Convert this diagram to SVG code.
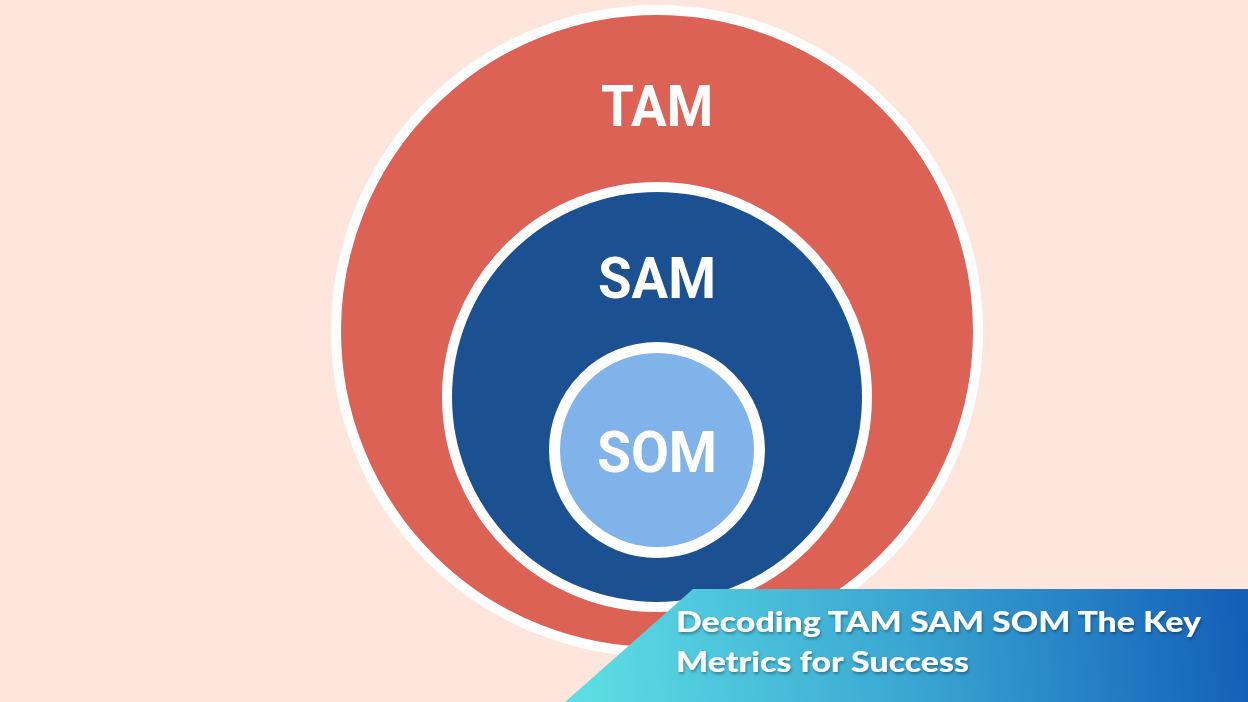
<svg xmlns="http://www.w3.org/2000/svg" width="1248" height="702" viewBox="0 0 1248 702">
  <defs>
    <style>
      .ring { stroke: #FFFFFF; }
      .lbl { font-family: Roboto, "Liberation Sans", sans-serif; font-weight: 700; font-size: 58px; fill: #FFFFFF; text-anchor: middle; }
      .ttl { font-family: Lato, "Open Sans", "Liberation Sans", sans-serif; font-weight: 900; font-size: 29px; fill: #FFFFFF; }
    </style>
    <linearGradient id="bannerGrad" x1="565" y1="680" x2="1248" y2="600" gradientUnits="userSpaceOnUse">
      <stop offset="0" stop-color="#5EE0E4"/>
      <stop offset="0.5" stop-color="#3AA6D2"/>
      <stop offset="1" stop-color="#125EB8"/>
    </linearGradient>
    <filter id="shadow" x="-5%" y="-30%" width="110%" height="160%">
      <feDropShadow dx="1" dy="2" stdDeviation="1.5" flood-color="#000000" flood-opacity="0.35"/>
    </filter>
  </defs>
  <rect x="0" y="0" width="1248" height="702" fill="#FEE6DD"/>
  <g id="connectors"/>
  <g id="tam">
    <circle class="ring" cx="657" cy="331" r="321" fill="#DB6254" stroke-width="10"/>
    <text class="lbl" x="657" y="126" textLength="112" lengthAdjust="spacingAndGlyphs">TAM</text>
  </g>
  <g id="sam">
    <circle class="ring" cx="657" cy="397" r="210" fill="#1B5191" stroke-width="10"/>
    <text class="lbl" x="657" y="298" textLength="118" lengthAdjust="spacingAndGlyphs">SAM</text>
  </g>
  <g id="som">
    <circle class="ring" cx="657" cy="450" r="102.5" fill="#80B3EA" stroke-width="11"/>
    <text class="lbl" x="657" y="472" textLength="120" lengthAdjust="spacingAndGlyphs">SOM</text>
  </g>
  <g id="banner">
    <polygon points="565,702 693,589 1248,589 1248,702" fill="url(#bannerGrad)"/>
    <g filter="url(#shadow)">
      <text class="ttl" x="676" y="632" textLength="525" lengthAdjust="spacingAndGlyphs">Decoding TAM SAM SOM The Key</text>
      <text class="ttl" x="676" y="672" textLength="293" lengthAdjust="spacingAndGlyphs">Metrics for Success</text>
    </g>
  </g>
</svg>
